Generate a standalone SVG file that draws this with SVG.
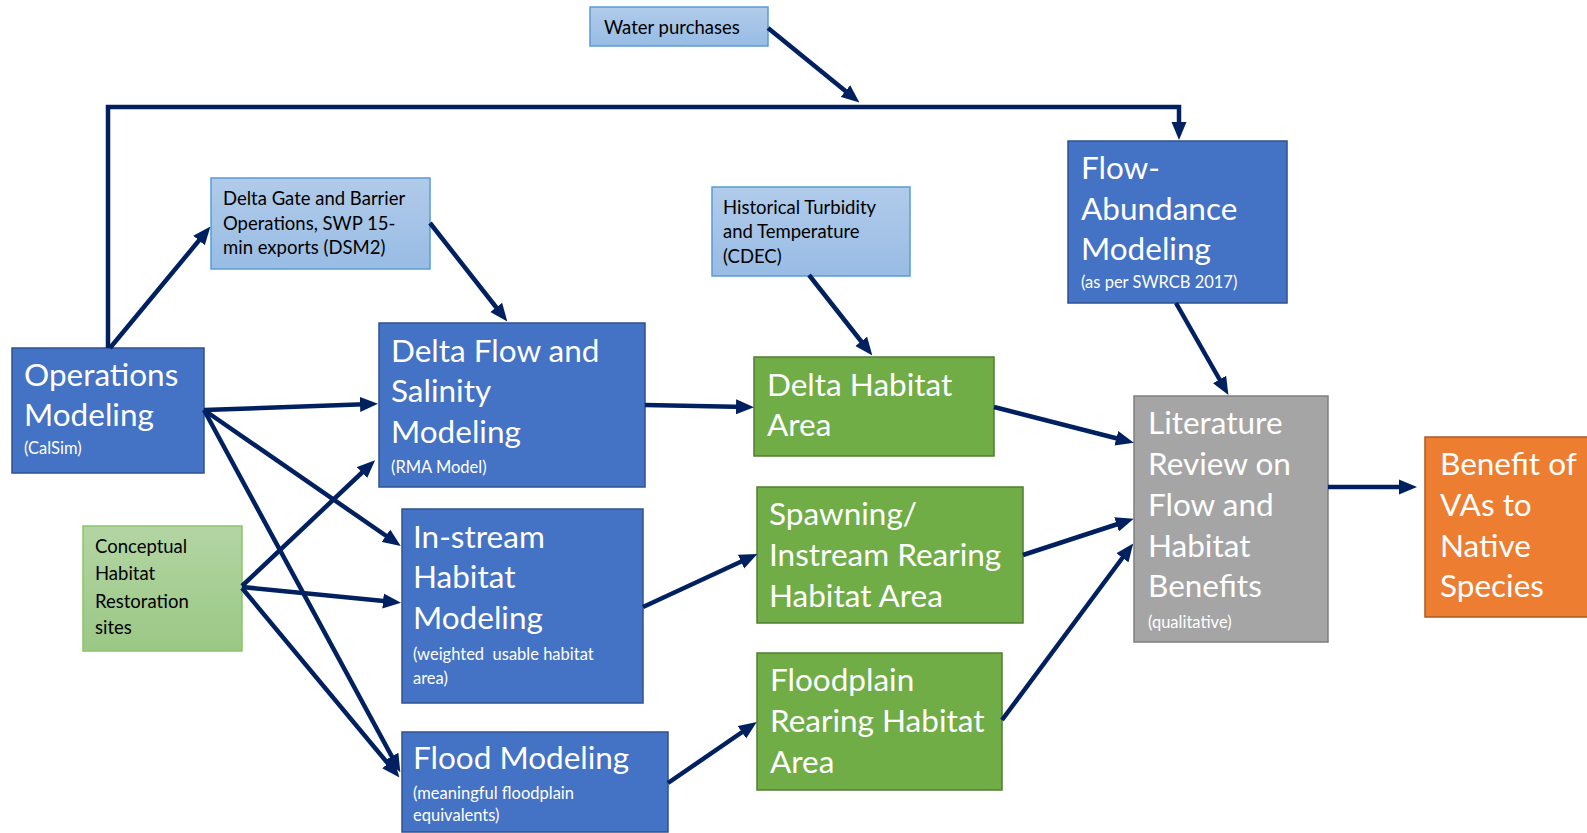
<svg xmlns="http://www.w3.org/2000/svg" width="1587" height="833" viewBox="0 0 1587 833">
<defs>
<style>
.blue{fill:#4472C4;stroke:#2F528F;stroke-width:1.5}
.lblue{fill:url(#gLB);stroke:#5B9BD5;stroke-width:1.5}
.green{fill:#70AD47;stroke:#507E32;stroke-width:1.5}
.lgreen{fill:url(#gLG);stroke:#8CC36A;stroke-width:1.5}
.gray{fill:#A5A5A5;stroke:#7F7F7F;stroke-width:1.5}
.orange{fill:#ED7D31;stroke:#AE5A21;stroke-width:1.5}
.big{font-family:Lato,"Open Sans",sans-serif;font-size:31.5px;fill:#fff}
.sub{font-family:Lato,"Open Sans",sans-serif;font-size:16.5px;fill:#fff}
.sm{font-family:Lato,"Open Sans",sans-serif;font-size:18.5px;fill:#000}
.conn path{fill:none;stroke:#002060;stroke-width:4.5;marker-end:url(#ah)}
</style>
<linearGradient id="gLB" x1="0" y1="0" x2="0" y2="1"><stop offset="0" stop-color="#B1CBEA"/><stop offset="1" stop-color="#98BCE4"/></linearGradient>
<linearGradient id="gLG" x1="0" y1="0" x2="0" y2="1"><stop offset="0" stop-color="#B3D5A3"/><stop offset="1" stop-color="#9BC886"/></linearGradient>
<marker id="ah" markerUnits="userSpaceOnUse" markerWidth="18" markerHeight="16" refX="11" refY="8" orient="auto"><path d="M0,0.5 L18,8 L0,15.5 z" fill="#002060"/></marker>
</defs>

<g id="water-purchases"><rect class="lblue" x="590" y="7" width="178" height="39"/><text class="sm" x="604" y="34">Water purchases</text></g>
<g id="delta-gate"><rect class="lblue" x="211" y="178" width="219" height="91"/><text class="sm" x="223" y="205">Delta Gate and Barrier</text><text class="sm" x="223" y="230">Operations, SWP 15-</text><text class="sm" x="223" y="254">min exports (DSM2)</text></g>
<g id="historical"><rect class="lblue" x="712" y="187" width="198" height="89"/><text class="sm" x="723" y="214">Historical Turbidity</text><text class="sm" x="723" y="238">and Temperature</text><text class="sm" x="723" y="263">(CDEC)</text></g>
<g id="flow-abundance"><rect class="blue" x="1068" y="141" width="219" height="162"/><text class="big" x="1081" y="179">Flow-</text><text class="big" x="1081" y="220">Abundance</text><text class="big" x="1081" y="260">Modeling</text><text class="sub" x="1081" y="288">(as per SWRCB 2017)</text></g>
<g id="operations"><rect class="blue" x="12" y="348" width="192" height="125"/><text class="big" x="24" y="386">Operations</text><text class="big" x="24" y="426">Modeling</text><text class="sub" x="24" y="454">(CalSim)</text></g>
<g id="delta-flow"><rect class="blue" x="379" y="323" width="266" height="164"/><text class="big" x="391" y="362">Delta Flow and</text><text class="big" x="391" y="402">Salinity</text><text class="big" x="391" y="443">Modeling</text><text class="sub" x="391" y="473">(RMA Model)</text></g>
<g id="delta-habitat"><rect class="green" x="754" y="357" width="240" height="99"/><text class="big" x="767" y="396">Delta Habitat</text><text class="big" x="767" y="436">Area</text></g>
<g id="literature"><rect class="gray" x="1134" y="396" width="194" height="246"/><text class="big" x="1148" y="434">Literature</text><text class="big" x="1148" y="475">Review on</text><text class="big" x="1148" y="516">Flow and</text><text class="big" x="1148" y="557">Habitat</text><text class="big" x="1148" y="597">Benefits</text><text class="sub" x="1148" y="628">(qualitative)</text></g>
<g id="benefit"><rect class="orange" x="1425" y="437" width="170" height="180"/><text class="big" x="1440" y="475">Benefit of</text><text class="big" x="1440" y="516">VAs to</text><text class="big" x="1440" y="557">Native</text><text class="big" x="1440" y="597">Species</text></g>
<g id="conceptual"><rect class="lgreen" x="83" y="526" width="159" height="125"/><text class="sm" x="95" y="553">Conceptual</text><text class="sm" x="95" y="580">Habitat</text><text class="sm" x="95" y="608">Restoration</text><text class="sm" x="95" y="634">sites</text></g>
<g id="in-stream"><rect class="blue" x="402" y="509" width="241" height="194"/><text class="big" x="413" y="548">In-stream</text><text class="big" x="413" y="588">Habitat</text><text class="big" x="413" y="629">Modeling</text><text class="sub" x="413" y="660" xml:space="preserve">(weighted  usable habitat</text><text class="sub" x="413" y="684">area)</text></g>
<g id="spawning"><rect class="green" x="757" y="487" width="266" height="136"/><text class="big" x="769" y="525">Spawning/</text><text class="big" x="769" y="566">Instream Rearing</text><text class="big" x="769" y="607">Habitat Area</text></g>
<g id="flood"><rect class="blue" x="402" y="732" width="266" height="100"/><text class="big" x="413" y="769">Flood Modeling</text><text class="sub" x="413" y="799">(meaningful floodplain</text><text class="sub" x="413" y="821">equivalents)</text></g>
<g id="floodplain"><rect class="green" x="757" y="653" width="245" height="137"/><text class="big" x="770" y="691">Floodplain</text><text class="big" x="770" y="732">Rearing Habitat</text><text class="big" x="770" y="773">Area</text></g>

<g id="connectors" class="conn">
<path d="M108,348 L108,107 L1179,107 L1179,133"/>
<path d="M768,28 L854,98"/>
<path d="M110,348 L206,232"/>
<path d="M430,223 L503,316"/>
<path d="M204,410 L371,404"/>
<path d="M204,410 L395,542"/>
<path d="M204,410 L397,766"/>
<path d="M242,586 L370,465"/>
<path d="M242,587 L394,602"/>
<path d="M242,588 L395,772"/>
<path d="M645,405 L747,407"/>
<path d="M809,275 L868,350"/>
<path d="M643,607 L751,557"/>
<path d="M668,783 L751,726"/>
<path d="M1176,303 L1225,389"/>
<path d="M994,407 L1127,441"/>
<path d="M1023,555 L1127,521"/>
<path d="M1002,720 L1129,549"/>
<path d="M1328,487 L1410,487"/>
</g>
</svg>
